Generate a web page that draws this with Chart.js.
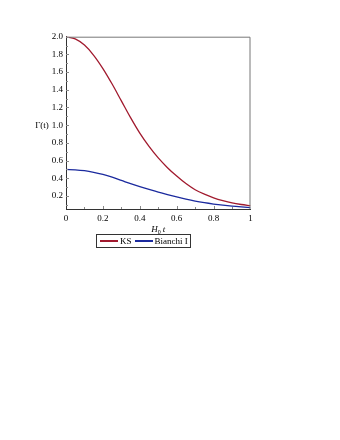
<!DOCTYPE html>
<html>
<head>
<meta charset="utf-8">
<script src="https://cdn.jsdelivr.net/npm/chart.js@4"></script>
<style>
  html, body { margin:0; padding:0; background:#fff; width:340px; height:440px; overflow:hidden; }
  #wrap { position:absolute; left:0; top:0; width:340px; height:250px; }
  #legend { position:absolute; left:96px; top:234px; border:1px solid #333; padding:1px 2px 1px 3px;
            font-family:"Liberation Serif", serif; font-size:9px; color:#000; display:flex; align-items:center; line-height:10px; }
  #legend .ln { display:inline-block; width:18px; height:1.4px; margin-right:2px; }
  #legend .it { display:flex; align-items:center; margin-right:3px; }
  #legend .it:last-child { margin-right:0; }
</style>
</head>
<body>
<div id="wrap"><canvas id="c"></canvas></div>
<div id="legend"></div>
<script>
const tVals   = [0, 0.05, 0.1, 0.15, 0.2, 0.25, 0.3, 0.35, 0.4, 0.45, 0.5, 0.55, 0.6, 0.65, 0.7, 0.75, 0.8, 0.85, 0.9, 0.95, 1.0];
const ksVals  = [2.00, 1.975, 1.905, 1.79, 1.64, 1.465, 1.275, 1.085, 0.91, 0.76, 0.63, 0.52, 0.425, 0.34, 0.27, 0.22, 0.18, 0.148, 0.122, 0.104, 0.09];
const biVals  = [0.50, 0.496, 0.486, 0.468, 0.443, 0.412, 0.376, 0.339, 0.305, 0.274, 0.245, 0.216, 0.189, 0.164, 0.142, 0.124, 0.109, 0.096, 0.085, 0.076, 0.068];
const seriesNames = ["KS", "Bianchi I"];
const seriesColors = ["#a11a2e", "#1b2a9e"];
const xTicks = [0, 0.2, 0.4, 0.6, 0.8, 1];
const yTicks = [0.2, 0.4, 0.6, 0.8, 1.0, 1.2, 1.4, 1.6, 1.8, 2.0];

const FONT = "Liberation Serif";

const framePlugin = {
  id: 'frame',
  afterDraw(chart) {
    const {ctx, chartArea: a, scales: {x, y}} = chart;
    ctx.save();
    ctx.strokeStyle = '#777';
    ctx.lineWidth = 1;
    ctx.beginPath();
    ctx.moveTo(a.left, a.top + 0.5); ctx.lineTo(a.right - 0.5, a.top + 0.5); ctx.lineTo(a.right - 0.5, a.bottom);
    ctx.stroke();
    ctx.strokeStyle = '#888';
    ctx.beginPath();
    for (let i = 1; i < 10; i++) {
      const v = i / 10;
      const px = Math.round(x.getPixelForValue(v)) + 0.5;
      const len = (i % 2 === 0) ? 3 : 2;
      ctx.moveTo(px, a.bottom); ctx.lineTo(px, a.bottom - len);
    }
    for (let i = 1; i <= 20; i++) {
      const v = i / 10;
      if (v < y.min) continue;
      const py = Math.round(y.getPixelForValue(v)) + 0.5;
      const len = (i % 2 === 0) ? 3 : 2;
      ctx.moveTo(a.left, py); ctx.lineTo(a.left + len, py);
    }
    ctx.stroke();
    ctx.fillStyle = '#000';
    ctx.font = '9px "' + FONT + '"';
    ctx.textAlign = 'center';
    ctx.textBaseline = 'middle';
    ctx.fillText('\u0393(t)', 42, y.getPixelForValue(1.0));
    const cx = (a.left + a.right) / 2;
    const by = 232;
    ctx.textBaseline = 'alphabetic';
    ctx.textAlign = 'left';
    ctx.font = 'italic 9px "' + FONT + '"';
    const wH = ctx.measureText('H').width;
    ctx.font = '6px "' + FONT + '"';
    const w0 = ctx.measureText('0').width;
    ctx.font = 'italic 9px "' + FONT + '"';
    const wt = ctx.measureText('t').width;
    const total = wH + w0 + 2 + wt;
    let sx = cx - total / 2;
    ctx.fillText('H', sx, by);
    ctx.font = '6px "' + FONT + '"';
    ctx.fillText('0', sx + wH, by + 2);
    ctx.font = 'italic 9px "' + FONT + '"';
    ctx.fillText('t', sx + wH + w0 + 2, by);
    ctx.restore();
  }
};

const ds = [ksVals, biVals].map((vals, i) => ({
  label: seriesNames[i],
  data: tVals.map((t, j) => ({x: t, y: vals[j]})),
  borderColor: seriesColors[i],
  backgroundColor: seriesColors[i],
  borderWidth: 1.3,
  pointRadius: 0,
  cubicInterpolationMode: 'monotone',
  fill: false
}));

new Chart(document.getElementById('c'), {
  type: 'line',
  data: { datasets: ds },
  options: {
    responsive: true,
    maintainAspectRatio: false,
    animation: false,
    layout: { padding: { left: 0, right: 89.5, top: 36.7, bottom: 0 } },
    plugins: { legend: { display: false }, tooltip: { enabled: false } },
    scales: {
      x: {
        type: 'linear', min: 0, max: 1,
        afterBuildTicks(s) { s.ticks = xTicks.map(v => ({value: v})); },
        afterFit(s) { s.height = 41; },
        grid: { display: false, drawTicks: false },
        border: { color: '#333', width: 1 },
        ticks: { color: '#000', padding: 4, maxRotation: 0, font: { family: FONT, size: 9 },
                 callback: v => (v === 0 || v === 1) ? String(v) : v.toFixed(1) }
      },
      y: {
        type: 'linear', min: 0.053, max: 2.0,
        afterBuildTicks(s) { s.ticks = yTicks.map(v => ({value: v})); },
        afterFit(s) { s.width = 66; },
        grid: { display: false, drawTicks: false },
        border: { color: '#333', width: 1 },
        ticks: { color: '#000', padding: 3, font: { family: FONT, size: 9 },
                 callback: v => v.toFixed(1) }
      }
    }
  },
  plugins: [framePlugin]
});

const leg = document.getElementById('legend');
seriesNames.forEach((n, i) => {
  const it = document.createElement('span');
  it.className = 'it';
  const ln = document.createElement('span');
  ln.className = 'ln';
  ln.style.background = seriesColors[i];
  it.appendChild(ln);
  it.appendChild(document.createTextNode(n));
  leg.appendChild(it);
});
</script>
</body>
</html>
